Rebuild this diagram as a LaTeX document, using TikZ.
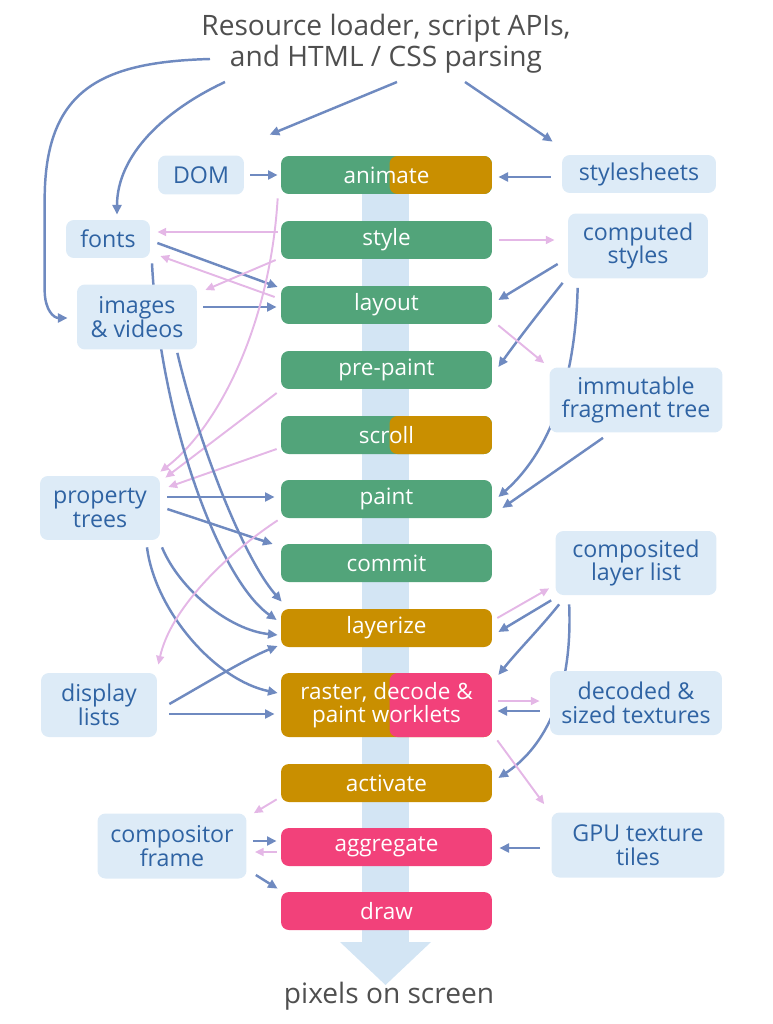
\documentclass[tikz,border=0pt]{standalone}
\usepackage{fontspec}
\setmainfont{Open Sans}
\usetikzlibrary{arrows.meta,calc}

\definecolor{grn}{HTML}{52A47A}
\definecolor{gld}{HTML}{C98F00}
\definecolor{pnk}{HTML}{F2417A}
\definecolor{boxfill}{HTML}{DDEBF7}
\definecolor{boxtext}{HTML}{2F63A3}
\definecolor{bandblue}{HTML}{D3E5F4}
\definecolor{feedblue}{HTML}{6F8AC0}
\definecolor{echopink}{HTML}{E4B7E6}
\definecolor{titlegray}{HTML}{4F4F4F}

\pgfdeclarelayer{back}
\pgfdeclarelayer{wires}
\pgfsetlayers{back,wires,main}

\begin{document}
\begin{tikzpicture}[
    x=0.02cm, y=-0.02cm,
    stage/.style={rounded corners=4.5pt, fill=#1, text=white, inner sep=0pt,
        minimum width=4.22cm, minimum height=0.76cm, align=center,
        font=\fontsize{12.8}{13}\selectfont},
    stage/.default=grn,
    twotone/.style 2 args={fill=#1, path picture={
        \fill[#2] ($(path picture bounding box.south)+(3,0)$) rectangle (path picture bounding box.north east);}},
    store/.style={rounded corners=4.5pt, fill=boxfill, text=boxtext, inner sep=0pt,
        align=center, font=\fontsize{13.2}{13.6}\selectfont},
    caption/.style={text=titlegray, inner sep=0pt, align=center,
        font=\fontsize{16}{18}\selectfont},
    feed/.style={draw=feedblue, line width=1.4pt, -{Triangle[length=5.5pt,width=5pt]}},
    echo/.style={draw=echopink, line width=1.1pt, -{Triangle[length=5pt,width=4.5pt]}}
]
\useasboundingbox (0,0) rectangle (772,1024);

% the wide arrow behind the stages
\begin{pgfonlayer}{back}
\fill[bandblue] (362,180) rectangle (409,943);
\fill[bandblue] (340,942) -- (431,942) -- (385.5,985) -- cycle;
\end{pgfonlayer}

\node[caption, anchor=south] (src) at (386,74) {Resource loader, script APIs,\\and HTML / CSS parsing};
\node[caption] (out) at (389,996) {pixels on screen};

% pipeline stages
\node[stage, twotone={grn}{gld}] (anim) at (386.5,175) {animate};
\node[stage] (sty) at (386.5,240) {style};
\node[stage] (lay) at (386.5,305) {layout};
\node[stage] (pre) at (386.5,370) {pre-paint};
\node[stage, twotone={grn}{gld}] (scr) at (386.5,435) {scroll};
\node[stage] (pnt) at (386.5,499) {paint};
\node[stage] (com) at (386.5,563) {commit};
\node[stage=gld] (lyr) at (386.5,628) {layerize};
\node[stage, twotone={gld}{pnk}, minimum height=1.28cm] (ras) at (386.5,705) {raster, decode \&\\paint worklets};
\node[stage=gld] (act) at (386.5,783) {activate};
\node[stage=pnk] (agg) at (386.5,847) {aggregate};
\node[stage=pnk] (drw) at (386.5,911) {draw};

% data on the left
\node[store, minimum width=1.72cm, minimum height=0.78cm] (dom) at (201,175) {DOM};
\node[store, minimum width=1.68cm, minimum height=0.76cm] (fonts) at (108,239) {fonts};
\node[store, minimum width=2.4cm, minimum height=1.3cm] (img) at (137,317) {images\\\& videos};
\node[store, minimum width=2.4cm, minimum height=1.28cm] (prop) at (100,508) {property\\trees};
\node[store, minimum width=2.32cm, minimum height=1.28cm] (disp) at (99,705) {display\\lists};
\node[store, minimum width=2.98cm, minimum height=1.3cm] (comp) at (172,846) {compositor\\frame};

% data on the right
\node[store, minimum width=3.08cm, minimum height=0.76cm] (sheets) at (639,174) {stylesheets};
\node[store, minimum width=2.8cm, minimum height=1.3cm] (cstyle) at (638,246) {computed\\styles};
\node[store, minimum width=3.46cm, minimum height=1.3cm] (frag) at (636,400) {immutable\\fragment tree};
\node[store, minimum width=3.22cm, minimum height=1.28cm] (clist) at (636,563) {composited\\layer list};
\node[store, minimum width=3.44cm, minimum height=1.28cm] (tex) at (636,703) {decoded \&\\sized textures};
\node[store, minimum width=3.46cm, minimum height=1.3cm] (gpu) at (638,845) {GPU texture\\tiles};

\begin{pgfonlayer}{wires}
% inputs from the top
\draw[feed] ($(src.south)+(-176,-15)$) .. controls +(-110,3) and +(0,-110) .. ($(img.west)+(-32,-117)$)
    -- ++(0,90) .. controls +(0,20) and +(-14,0) .. ($(img.west)+(-9,1)$);
\draw[feed] ($(src.south)+(-161,8)$) .. controls +(-60,28) and +(0,-60) .. ($(fonts.north)+(9,-5)$);
\draw[feed] ($(src.south)+(11,8)$) -- ($(anim.north west)+(-11,-21)$);
\draw[feed] ($(src.south)+(79,8)$) -- ($(sheets.north west)+(-9,-13)$);
\draw[feed] ($(dom.east)+(6,0)$) -- ($(anim.west)+(-3,0)$);
\draw[feed] ($(sheets.west)+(-11,3)$) -- ($(anim.east)+(6,2)$);

% left side
\draw[echo] ($(sty.west)+(-3,-8)$) -- ($(fonts.east)+(7,-7)$);
\draw[feed] ($(fonts.east)+(7,4)$) -- ($(lay.west)+(-3,-18)$);
\draw[echo] ($(lay.west)+(-6,-8)$) -- ($(fonts.east)+(10,17)$);
\draw[echo] ($(sty.west)+(-5,20)$) -- ($(img.east)+(8,-27)$);
\draw[feed] ($(img.east)+(6,-10)$) -- ($(lay.west)+(-4,2)$);
\draw[echo] ($(anim.south west)+(-3,4)$) .. controls +(-8,132) and +(55,-42) .. ($(prop.north east)+(0,-4)$);
\draw[echo] ($(pre.west)+(-4,23)$) -- ($(prop.north east)+(5,2)$);
\draw[echo] ($(scr.west)+(-4,14)$) -- ($(prop.east)+(8,-21)$);
\draw[feed] ($(prop.east)+(7,-11)$) -- ($(pnt.west)+(-6,-2)$);
\draw[feed] ($(prop.east)+(7,1)$) -- ($(com.west)+(-8,-19)$);
\draw[feed] ($(fonts.south)+(44,5)$) .. controls +(8,157) and +(-57,-40) .. ($(lyr.west)+(-4,-8)$);
\draw[feed] ($(img.south east)+(-20,3)$) .. controls +(23,97) and +(-37,-42) .. ($(lyr.north west)+(1,-7)$);
\draw[feed] ($(prop.south)+(47,7)$) .. controls +(8,63) and +(-63,-13) .. ($(ras.west)+(-3,-12)$);
\draw[feed] ($(prop.south)+(62,7)$) .. controls +(18,43) and +(-48,-5) .. ($(lyr.west)+(-3,7)$);
\draw[echo] ($(pnt.south west)+(-3,2)$) .. controls +(-53,35) and +(12,-55) .. ($(disp.north east)+(1,-8)$);
\draw[feed] ($(disp.east)+(12,-1)$) .. controls +(35,-20) and +(-30,12) .. ($(lyr.west)+(-3,18)$);
\draw[feed] ($(disp.east)+(12,9)$) -- ($(ras.west)+(-6,9)$);

% right side
\draw[echo] ($(sty.east)+(7,0)$) -- ($(cstyle.west)+(-13,-6)$);
\draw[feed] ($(cstyle.west)+(-10,18)$) -- ($(lay.east)+(6,-5)$);
\draw[feed] ($(cstyle.south west)+(-5,4)$) .. controls +(-20,25) and +(20,-28) .. ($(pre.east)+(6,-3)$);
\draw[feed] ($(cstyle.south west)+(10,9)$) .. controls +(-3,112) and +(42,-37) .. ($(pnt.east)+(6,-2)$);
\draw[echo] ($(lay.south east)+(6,1)$) -- ($(frag.north west)+(-5,-4)$);
\draw[feed] ($(frag.south)+(-33,5)$) -- ($(pnt.east)+(10,9)$);
\draw[echo] ($(lyr.east)+(5,-10)$) -- ($(clist.south west)+(-6,-7)$);
\draw[feed] ($(clist.south west)+(-4,5)$) -- ($(lyr.east)+(6,4)$);
\draw[feed] ($(clist.south west)+(4,9)$) .. controls +(-20,25) and +(20,-25) .. ($(ras.east)+(6,-30)$);
\draw[feed] ($(clist.south west)+(14,9)$) .. controls +(4,96) and +(42,-28) .. ($(act.east)+(6,-5)$);
\draw[echo] ($(ras.east)+(6,-4)$) -- ($(tex.west)+(-10,-2)$);
\draw[feed] ($(tex.west)+(-10,8)$) -- ($(ras.east)+(5,6)$);
\draw[echo] ($(ras.south east)+(5,3)$) -- ($(gpu.north west)+(-7,-8)$);
\draw[feed] ($(gpu.west)+(-11,3)$) -- ($(agg.east)+(7,1)$);

% compositor frame
\draw[echo] ($(act.south west)+(-4,-3)$) -- ($(comp.north east)+(7,0)$);
\draw[feed] ($(comp.east)+(6,-5)$) -- ($(agg.west)+(-4,-6)$);
\draw[echo] ($(agg.west)+(-4,5)$) -- ($(comp.east)+(8,6)$);
\draw[feed] ($(comp.east)+(9,29)$) -- ($(drw.north west)+(-3,-3)$);
\end{pgfonlayer}

\end{tikzpicture}
\end{document}
